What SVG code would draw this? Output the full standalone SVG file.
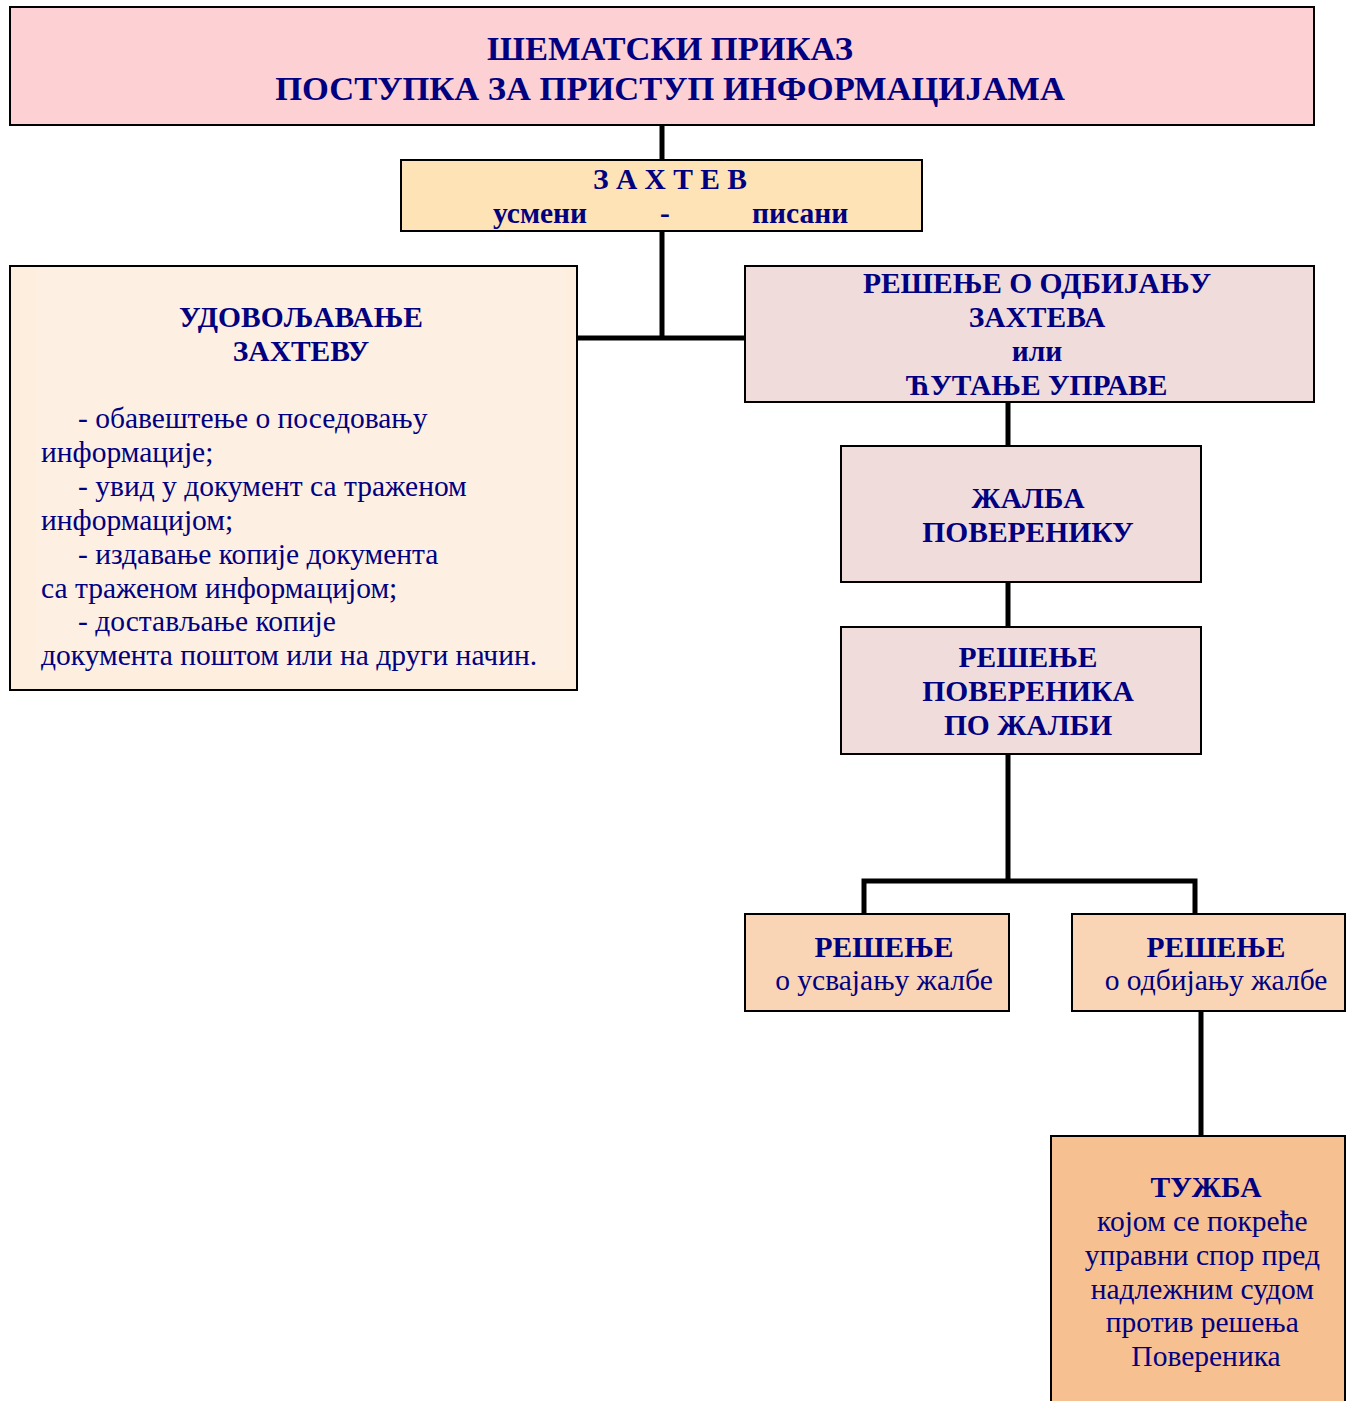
<svg xmlns="http://www.w3.org/2000/svg" width="1346" height="1401" viewBox="0 0 1346 1401">
<style>
.box{stroke:#000;stroke-width:2}
.t{font-family:"Liberation Serif","Times New Roman",serif;fill:#000080;font-size:29.5px}
.b{font-weight:bold}
.c{text-anchor:middle}
.con{stroke:#000;stroke-width:5;fill:none}
</style>
<rect width="1346" height="1401" fill="#fff"/>
<g id="connectors">
<line class="con" x1="662" y1="125" x2="662" y2="160"/>
<line class="con" x1="662" y1="231" x2="662" y2="338"/>
<line class="con" x1="578" y1="338" x2="745" y2="338"/>
<line class="con" x1="1008" y1="402" x2="1008" y2="446"/>
<line class="con" x1="1008" y1="582" x2="1008" y2="627"/>
<polyline class="con" points="1008,754 1008,881"/>
<polyline class="con" points="864,914 864,881 1195,881 1195,914"/>
<line class="con" x1="1201" y1="1011" x2="1201" y2="1136"/>
</g>
<g id="title">
<rect class="box" x="10" y="7" width="1304" height="118" fill="#fdd0d4"/>
<text class="t b c" x="670" y="60" style="font-size:34.5px">ШЕМАТСКИ ПРИКАЗ</text>
<text class="t b c" x="670" y="100" style="font-size:34.5px">ПОСТУПКА ЗА ПРИСТУП ИНФОРМАЦИЈАМА</text>
</g>
<g id="zahtev">
<rect class="box" x="401" y="160" width="521" height="71" fill="#fde3b5"/>
<text class="t b c" x="670" y="189">З А Х Т Е В</text>
<text class="t b" x="493" y="223">усмени</text>
<text class="t b c" x="665" y="223">-</text>
<text class="t b" x="752" y="223">писани</text>
</g>
<g id="udovoljavanje">
<rect class="box" x="10" y="266" width="567" height="424" fill="#fdeede"/>
<rect x="36" y="268" width="530" height="402" fill="#fdefe1"/>
<text class="t b c" x="301" y="327">УДОВОЉАВАЊЕ</text>
<text class="t b c" x="301" y="361">ЗАХТЕВУ</text>
<text class="t">
<tspan x="78" y="428">- обавештење о поседовању</tspan>
<tspan x="41" y="462">информације;</tspan>
<tspan x="78" y="496">- увид у документ са траженом</tspan>
<tspan x="41" y="530">информацијом;</tspan>
<tspan x="78" y="564">- издавање копије документа</tspan>
<tspan x="41" y="598">са траженом информацијом;</tspan>
<tspan x="78" y="631">- достављање копије</tspan>
<tspan x="41" y="665">документа поштом или на други начин.</tspan>
</text>
</g>
<g id="odbijanje">
<rect class="box" x="745" y="266" width="569" height="136" fill="#f1dcdc"/>
<text class="t b c" x="1037" y="293">РЕШЕЊЕ О ОДБИЈАЊУ</text>
<text class="t b c" x="1037" y="327">ЗАХТЕВА</text>
<text class="t b c" x="1037" y="361">или</text>
<text class="t b c" x="1037" y="395">ЋУТАЊЕ УПРАВЕ</text>
</g>
<g id="zalba">
<rect class="box" x="841" y="446" width="360" height="136" fill="#f1dcdc"/>
<text class="t b c" x="1028" y="508">ЖАЛБА</text>
<text class="t b c" x="1028" y="542">ПОВЕРЕНИКУ</text>
</g>
<g id="resenje-poverenika">
<rect class="box" x="841" y="627" width="360" height="127" fill="#f1dcdc"/>
<text class="t b c" x="1028" y="667">РЕШЕЊЕ</text>
<text class="t b c" x="1028" y="701">ПОВЕРЕНИКА</text>
<text class="t b c" x="1028" y="735">ПО ЖАЛБИ</text>
</g>
<g id="usvajanje">
<rect class="box" x="745" y="914" width="264" height="97" fill="#fad5b5"/>
<text class="t b c" x="884" y="957">РЕШЕЊЕ</text>
<text class="t c" x="884" y="990">о усвајању жалбе</text>
</g>
<g id="odbijanje-zalbe">
<rect class="box" x="1072" y="914" width="273" height="97" fill="#fad5b5"/>
<text class="t b c" x="1216" y="957">РЕШЕЊЕ</text>
<text class="t c" x="1216" y="990">о одбијању жалбе</text>
</g>
<g id="tuzba">
<rect class="box" x="1051" y="1136" width="294" height="275" fill="#f7c090"/>
<text class="t b c" x="1206" y="1197">ТУЖБА</text>
<text class="t c">
<tspan x="1206" y="1231">којом се покреће</tspan>
<tspan x="1206" y="1265">управни спор пред</tspan>
<tspan x="1206" y="1299">надлежним судом</tspan>
<tspan x="1206" y="1332">против решења</tspan>
<tspan x="1206" y="1366">Повереника</tspan>
</text>
</g>
</svg>
